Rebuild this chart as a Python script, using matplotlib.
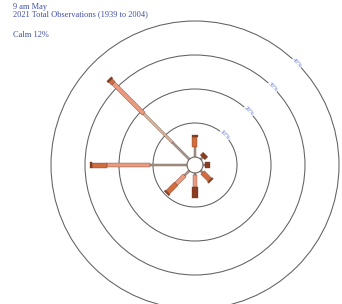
import numpy as np
import matplotlib
matplotlib.use("Agg")
import matplotlib.pyplot as plt
from matplotlib.patches import Circle, Polygon

# wind rose data, percent of observations per direction and speed class
directions = ["N", "NE", "E", "SE", "S", "SW", "W", "NW"]
angles = [90, 45, 0, -45, -90, -135, 180, 135]
speed_classes = ["1-10", "11-20", "21-30", "31-40", ">40"]
class_colors = ["#a39a92", "#dcb8a0", "#eb9a80", "#d36c3e", "#8a3d20"]
class_widths = [2.0, 2.4, 4.2, 5.0, 6.5]   # pixels

freq = {
    "N":  [2.9, 0.0, 0.0, 3.0, 0.6],
    "NE": [0.8, 0.0, 0.0, 0.0, 1.2],
    "E":  [0.6, 0.0, 0.0, 0.0, 1.6],
    "SE": [0.8, 0.0, 0.0, 3.0, 0.5],
    "S":  [0.6, 0.0, 3.5, 0.0, 3.3],
    "SW": [2.0, 0.0, 3.5, 3.5, 0.5],
    "W":  [10.9, 0.0, 12.6, 4.4, 0.6],
    "NW": [7.0, 12.0, 12.6, 1.2, 0.6],
}
rings = [10, 20, 30, 40]
ring_labels = ["10%", "20%", "30%", "40%"]
calm = 12
title1 = "9 am May"
title2 = "2021 Total Observations (1939 to 2004)"

W, H = 342, 304
px = 3.4          # pixels per percent
cx, cy = 195, 165  # centre in pixels from top-left
calm_r = 8 / px

fig = plt.figure(figsize=(W / 100, H / 100), dpi=100)
ax = fig.add_axes([0, 0, 1, 1])
ax.set_xlim(-cx / px, (W - cx) / px)
ax.set_ylim(-(H - cy) / px, cy / px)
ax.set_aspect("equal")
ax.axis("off")

for r, lab in zip(rings, ring_labels):
    R = calm_r + r
    ax.add_patch(Circle((0, 0), R, fill=False, ec="#606060", lw=0.75))
    t = np.radians(45)
    ax.text(R * np.cos(t), R * np.sin(t), lab, rotation=-45, ha="center", va="center",
            fontsize=4.5, color="#6a7acc", family="Liberation Serif",
            bbox=dict(fc="white", ec="none", pad=0.2))

ax.add_patch(Circle((0, 0), calm_r, fill=False, ec="#606060", lw=0.75))

for d, a in zip(directions, angles):
    t = np.radians(a)
    u = np.array([np.cos(t), np.sin(t)])
    n = np.array([-np.sin(t), np.cos(t)])
    r0 = calm_r
    for val, col, w in zip(freq[d], class_colors, class_widths):
        if val <= 0:
            continue
        r1 = r0 + val
        hw = w / px / 2
        pts = [r0 * u + hw * n, r1 * u + hw * n, r1 * u - hw * n, r0 * u - hw * n]
        ax.add_patch(Polygon(pts, closed=True, fc=col, ec="#6b3a25", lw=0.25))
        r0 = r1

tx = 13 / W
fs = 6.0
fig.text(tx, 1 - 3 / H, title1, ha="left", va="top", fontsize=fs,
         family="Liberation Serif", color="#3f4fa8")
fig.text(tx, 1 - 10 / H, title2, ha="left", va="top", fontsize=fs,
         family="Liberation Serif", color="#3f4fa8")
fig.text(tx, 1 - 31 / H, "Calm %d%%" % calm, ha="left", va="top", fontsize=fs,
         family="Liberation Serif", color="#3f4fa8")

fig.savefig("out.png", dpi=100)
